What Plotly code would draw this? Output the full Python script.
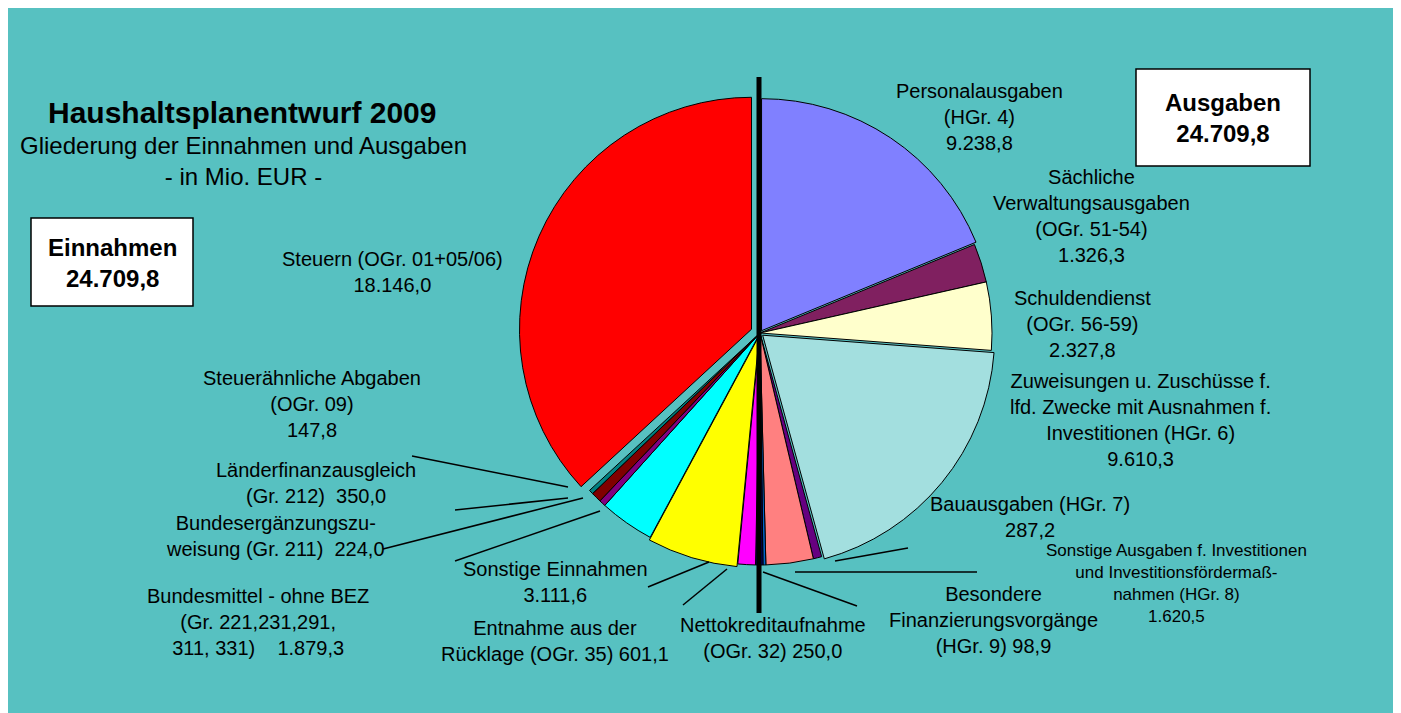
import plotly.graph_objects as go

# ---------------- data ----------------
ausgaben_names = [
    "Personalausgaben", "Sächliche Verwaltungsausgaben", "Schuldendienst",
    "Zuweisungen u. Zuschüsse f. lfd. Zwecke", "Bauausgaben",
    "Sonstige Ausgaben f. Investitionen", "Besondere Finanzierungsvorgänge",
]
ausgaben_values = [9238.8, 1326.3, 2327.8, 9610.3, 287.2, 1620.5, 98.9]

einnahmen_names = [
    "Nettokreditaufnahme", "Entnahme aus der Rücklage", "Sonstige Einnahmen",
    "Bundesmittel - ohne BEZ", "Bundesergänzungszuweisung", "Länderfinanzausgleich",
    "Steuerähnliche Abgaben", "Steuern",
]
einnahmen_values = [250.0, 601.1, 3111.6, 1879.3, 224.0, 350.0, 147.8, 18146.0]

total_einnahmen = 24709.8
total_ausgaben = 24709.8

ausgaben_templates = [
    "Personalausgaben<br>(HGr. 4)<br>{v}",
    "Sächliche<br>Verwaltungsausgaben<br>(OGr. 51-54)<br>{v}",
    "Schuldendienst<br>(OGr. 56-59)<br>{v}",
    "Zuweisungen u. Zuschüsse f.<br>lfd. Zwecke mit Ausnahmen f.<br>Investitionen (HGr. 6)<br>{v}",
    "Bauausgaben (HGr. 7)<br>{v}",
    "Sonstige Ausgaben f. Investitionen<br>und Investitionsfördermaß-<br>nahmen (HGr. 8)<br>{v}",
    "Besondere<br>Finanzierungsvorgänge<br>(HGr. 9) {v}",
]
einnahmen_templates = [
    "Nettokreditaufnahme<br>(OGr. 32) {v}",
    "Entnahme aus der<br>Rücklage (OGr. 35) {v}",
    "Sonstige Einnahmen<br>{v}",
    "Bundesmittel - ohne BEZ<br>(Gr. 221,231,291,<br>311, 331)\u00a0\u00a0\u00a0 {v}",
    "Bundesergänzungszu-<br>weisung (Gr. 211)\u00a0 {v}",
    "Länderfinanzausgleich<br>(Gr. 212)\u00a0 {v}",
    "Steuerähnliche Abgaben<br>(OGr. 09)<br>{v}",
    "Steuern (OGr. 01+05/06)<br>{v}",
]

# ---------------- styles ----------------
ausgaben_colors = ["#8080FF", "#802060", "#FFFFCC", "#A3DFDF", "#660080", "#FF8080", "#0066CC"]
einnahmen_colors = ["#000080", "#FF00FF", "#FFFF00", "#00FFFF", "#800080", "#800000", "#008080", "#FF0000"]
ausgaben_pull = [0.012, 0, 0, 0.015, 0, 0, 0]
einnahmen_pull = [0, 0, 0.012, 0, 0, 0, 0, 0.04]

LF = 20  # label font size
# label positions in screen pixels (center x, center y, font size)
ausgaben_pos = [(979, 117, LF), (1091, 216, LF), (1082, 324, LF), (1140, 420, LF),
                (1030, 517, LF), (1176, 583, 17), (993, 620, LF)]
einnahmen_pos = [(773, 638, LF), (555, 641, LF), (555, 582, LF), (258, 622, LF),
                 (275, 536, LF), (316, 483, LF), (312, 404, LF), (392, 272, LF)]

leader_lines = [
    (412, 456, 568, 487), (455, 510, 568, 498), (383, 549, 583, 498),
    (455, 561, 600, 511), (648, 587, 709, 562), (683, 605, 727, 569),
    (763, 572, 857, 606), (795, 572, 977, 572), (835, 561, 908, 548),
]

W, H = 1401, 713
OFF = 8  # page body margin offset
FONT = "Liberation Sans, Arial, Helvetica, sans-serif"
BG = "#57C1C1"


def px(x):
    return (x - OFF) / W


def py(y):
    return 1 - (y - OFF) / H


def de(v):
    s = f"{v:,.1f}"
    return s.replace(",", "X").replace(".", ",").replace("X", ".")


labels = ausgaben_names + einnahmen_names
values = ausgaben_values + einnahmen_values
colors = ausgaben_colors + einnahmen_colors
pulls = ausgaben_pull + einnahmen_pull

# pie geometry (screen pixels)
cx, cy, r = 760, 333, 232
half = r * (1 + max(pulls))

fig = go.Figure(go.Pie(
    labels=labels, values=values, sort=False, direction="clockwise", rotation=0,
    marker=dict(colors=colors, line=dict(color="black", width=1)),
    pull=pulls, textinfo="none", hoverinfo="label+value", showlegend=False,
    domain=dict(x=[px(cx - half), px(cx + half)], y=[py(cy + half), py(cy - half)]),
))

shapes = [
    dict(type="rect", xref="paper", yref="paper", x0=px(6), x1=px(1398), y0=py(713), y1=py(8),
         fillcolor=BG, line=dict(width=0), layer="below"),
    dict(type="line", xref="paper", yref="paper", x0=px(759), x1=px(759), y0=py(77), y1=py(613),
         line=dict(color="black", width=5)),
    dict(type="rect", xref="paper", yref="paper", x0=px(1136), x1=px(1310), y0=py(166), y1=py(69),
         fillcolor="white", line=dict(color="black", width=1.5)),
    dict(type="rect", xref="paper", yref="paper", x0=px(31), x1=px(193), y0=py(306), y1=py(218),
         fillcolor="white", line=dict(color="black", width=1.5)),
]
for (x0, y0, x1, y1) in leader_lines:
    shapes.append(dict(type="line", xref="paper", yref="paper", x0=px(x0), y0=py(y0),
                       x1=px(x1), y1=py(y1), line=dict(color="black", width=1.5)))

annotations = []
for tmpl, v, (x, y, fs) in zip(ausgaben_templates + einnahmen_templates, values,
                               ausgaben_pos + einnahmen_pos):
    annotations.append(dict(text=tmpl.format(v=de(v)), x=px(x), y=py(y), xref="paper", yref="paper",
                            xanchor="center", yanchor="middle", showarrow=False, align="center",
                            font=dict(family=FONT, size=fs, color="black")))

annotations += [
    dict(text="<b>Haushaltsplanentwurf 2009</b>", x=px(242), y=py(112), xref="paper", yref="paper",
         showarrow=False, xanchor="center", yanchor="middle", font=dict(family=FONT, size=30, color="black")),
    dict(text="Gliederung der Einnahmen und Ausgaben<br>- in Mio. EUR -", x=px(243), y=py(161),
         xref="paper", yref="paper", showarrow=False, xanchor="center", yanchor="middle", align="center",
         font=dict(family=FONT, size=24, color="black")),
    dict(text=f"<b>Ausgaben<br>{de(total_ausgaben)}</b>", x=px(1223), y=py(118), xref="paper", yref="paper",
         showarrow=False, xanchor="center", yanchor="middle", align="center",
         font=dict(family=FONT, size=24, color="black")),
    dict(text=f"<b>Einnahmen<br>{de(total_einnahmen)}</b>", x=px(112), y=py(263), xref="paper", yref="paper",
         showarrow=False, xanchor="center", yanchor="middle", align="center",
         font=dict(family=FONT, size=24, color="black")),
]

fig.update_layout(
    width=W, height=H, margin=dict(l=0, r=0, t=0, b=0),
    paper_bgcolor="white", plot_bgcolor="white",
    shapes=shapes, annotations=annotations,
    font=dict(family=FONT),
)

fig.write_html("out.html")
